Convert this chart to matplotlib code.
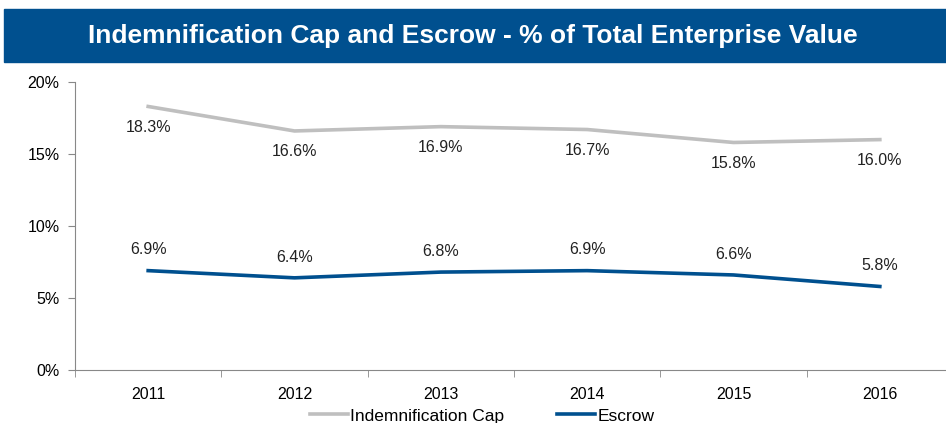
import matplotlib.pyplot as plt
from matplotlib.patches import Rectangle
from matplotlib.ticker import FuncFormatter

plt.rcParams['font.family'] = ['Liberation Sans', 'DejaVu Sans']

years = ["2011", "2012", "2013", "2014", "2015", "2016"]
indemnification_cap = [18.3, 16.6, 16.9, 16.7, 15.8, 16.0]
escrow = [6.9, 6.4, 6.8, 6.9, 6.6, 5.8]

grey = "#BFBFBF"
blue = "#00508F"

fig = plt.figure(figsize=(9.46, 4.23), dpi=100)

# blue title banner
fig.patches.append(Rectangle((4 / 946, 1 - 62 / 423), 942 / 946, 53 / 423,
                             transform=fig.transFigure, color=blue, zorder=0))
fig.text(0.5, 1 - 36 / 423, "Indemnification Cap and Escrow - % of Total Enterprise Value",
         color="white", fontsize=19, fontweight="bold", ha="center", va="center")

ax = fig.add_axes([75 / 946, 1 - 370 / 423, 878 / 946, 288 / 423])
x = list(range(len(years)))
ax.plot(x, indemnification_cap, color=grey, lw=2.6, label="Indemnification Cap")
ax.plot(x, escrow, color=blue, lw=2.6, label="Escrow")

for i, v in enumerate(indemnification_cap):
    ax.annotate(f"{v:.1f}%", (i, v), xytext=(0, -15), textcoords="offset points",
                ha="center", va="center", fontsize=11.5, color="#222222")
for i, v in enumerate(escrow):
    ax.annotate(f"{v:.1f}%", (i, v), xytext=(0, 15), textcoords="offset points",
                ha="center", va="center", fontsize=11.5, color="#222222")

ax.set_xlim(-0.5, 5.5)
ax.set_ylim(0, 20)
ax.set_yticks([0, 5, 10, 15, 20])
ax.yaxis.set_major_formatter(FuncFormatter(lambda v, p: f"{v:.0f}%"))
ax.set_xticks(x)
ax.set_xticklabels(years)
ax.set_xticks([i - 0.5 for i in range(len(years))], minor=True)
ax.tick_params(axis="x", which="major", length=0, pad=12, labelsize=11.5)
ax.tick_params(axis="x", which="minor", length=5, color="#888888")
ax.tick_params(axis="y", length=5, color="#888888", labelsize=11.5, pad=6)

for s in ["top", "right"]:
    ax.spines[s].set_visible(False)
for s in ["left", "bottom"]:
    ax.spines[s].set_color("#888888")

fig.legend(loc="center", bbox_to_anchor=(482 / 946, 1 - 416 / 423), ncol=2,
           frameon=False, fontsize=12.5, handlelength=2.2, columnspacing=3.0,
           handletextpad=0.15)

fig.savefig("out.png", dpi=100)
